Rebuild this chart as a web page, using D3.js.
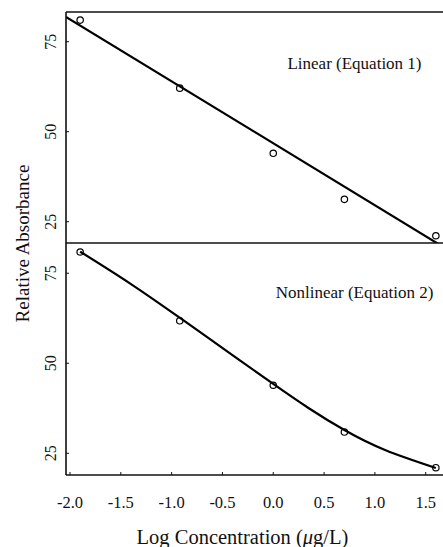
<!DOCTYPE html>
<html>
<head>
<meta charset="utf-8">
<script src="https://cdn.jsdelivr.net/npm/d3@7"></script>
<style>
  html, body { margin: 0; padding: 0; background: #fff; }
  svg { display: block; }
  text { font-family: "Liberation Serif", "DejaVu Serif", serif; fill: #111; }
</style>
</head>
<body>
<svg id="chart" width="443" height="547"></svg>
<script>
// ---- data ----
const logConc = [-1.9, -0.92, 0.0, 0.7, 1.6];
const absorbanceLinearPanel = [81.0, 62.1, 44.0, 31.2, 21.1];
const absorbanceNonlinearPanel = [80.9, 61.8, 43.9, 30.9, 21.0];

// fitted linear line (Equation 1), endpoints
const linearFitX = [-2.04, 1.66];
const linearFitY = [81.9, 18.2];

// fitted nonlinear curve (Equation 2)
const nonlinFitX = [-1.9, -1.4, -0.9, -0.45, 0.0, 0.35, 0.7, 1.1, 1.6];
const nonlinFitY = [81.0, 72.0, 62.25, 53.25, 44.25, 37.5, 31.45, 25.9, 20.9];

const xTicks = [-2.0, -1.5, -1.0, -0.5, 0.0, 0.5, 1.0, 1.5];
const xTickLabels = ["-2.0", "-1.5", "-1.0", "-0.5", "0.0", "0.5", "1.0", "1.5"];
const yTicks = [25, 50, 75];
const yTickLabels = ["25", "50", "75"];

const panelLabels = ["Linear (Equation 1)", "Nonlinear (Equation 2)"];
const xTitle = "Log Concentration (";
const yTitle = "Relative Absorbance";

// ---- layout ----
const svg = d3.select("#chart");
const left = 66, right = 443;
const x = d3.scaleLinear().domain([-2.0, 1.5]).range([70, 425.7]);

const panels = [
  { top: 12, bottom: 243, domain: [19.08, 83.25], ys: absorbanceLinearPanel, label: panelLabels[0], labelY: 63 },
  { top: 243, bottom: 475, domain: [18.97, 83.4], ys: absorbanceNonlinearPanel, label: panelLabels[1], labelY: 292 }
];
panels.forEach(p => { p.y = d3.scaleLinear().domain(p.domain).range([p.bottom, p.top]); });

const defs = svg.append("defs");
panels.forEach((p, i) => {
  defs.append("clipPath").attr("id", "clip" + i)
    .append("rect").attr("x", left).attr("y", p.top).attr("width", right - left).attr("height", p.bottom - p.top);
});

// fit lines
const lineGen = (ys) => d3.line().x(d => x(d[0])).y(d => ys(d[1]));
svg.append("path")
  .attr("clip-path", "url(#clip0)")
  .attr("d", lineGen(panels[0].y)(d3.zip(linearFitX, linearFitY)))
  .attr("fill", "none").attr("stroke", "#000").attr("stroke-width", 2.2);

svg.append("path")
  .attr("clip-path", "url(#clip1)")
  .attr("d", lineGen(panels[1].y).curve(d3.curveNatural)(d3.zip(nonlinFitX, nonlinFitY)))
  .attr("fill", "none").attr("stroke", "#000").attr("stroke-width", 2.2);

// points
panels.forEach(p => {
  svg.append("g").selectAll("circle")
    .data(d3.zip(logConc, p.ys))
    .join("circle")
    .attr("cx", d => x(d[0])).attr("cy", d => p.y(d[1])).attr("r", 3.2)
    .attr("fill", "none").attr("stroke", "#000").attr("stroke-width", 1.2);
});

// frame lines
const frame = svg.append("g").attr("stroke", "#111").attr("stroke-width", 1.6);
frame.append("line").attr("x1", left).attr("x2", right).attr("y1", 12).attr("y2", 12);
frame.append("line").attr("x1", left).attr("x2", right).attr("y1", 243).attr("y2", 243);
frame.append("line").attr("x1", left).attr("x2", right).attr("y1", 475).attr("y2", 475);
frame.append("line").attr("x1", left).attr("x2", left).attr("y1", 12).attr("y2", 475);

// y ticks + labels
panels.forEach(p => {
  const g = svg.append("g");
  yTicks.forEach((t, i) => {
    g.append("line").attr("x1", left).attr("x2", left + 3)
      .attr("y1", p.y(t)).attr("y2", p.y(t)).attr("stroke", "#111").attr("stroke-width", 1);
    g.append("text")
      .attr("transform", `translate(50,${p.y(t)}) rotate(-90)`)
      .attr("text-anchor", "middle").attr("dominant-baseline", "central")
      .style("font-size", "16px").text(yTickLabels[i]);
  });
  svg.append("text").attr("x", 354.5).attr("y", p.labelY)
    .attr("text-anchor", "middle").attr("dominant-baseline", "central")
    .style("font-size", "17px").text(p.label);
});

// x ticks + labels
const gx = svg.append("g");
xTicks.forEach((t, i) => {
  gx.append("line").attr("x1", x(t)).attr("x2", x(t)).attr("y1", 475).attr("y2", 472)
    .attr("stroke", "#111").attr("stroke-width", 1);
  gx.append("text").attr("x", x(t)).attr("y", 502)
    .attr("text-anchor", "middle").attr("dominant-baseline", "central")
    .style("font-size", "16.5px").text(xTickLabels[i]);
});

// axis titles
const xt = svg.append("text").attr("x", 242.5).attr("y", 537)
  .attr("text-anchor", "middle").attr("dominant-baseline", "central")
  .style("font-size", "20.5px");
xt.append("tspan").text(xTitle);
xt.append("tspan").style("font-style", "italic").text("μ");
xt.append("tspan").text("g/L)");

svg.append("text")
  .attr("transform", "translate(22,243.5) rotate(-90)")
  .attr("text-anchor", "middle").attr("dominant-baseline", "central")
  .style("font-size", "19px").text(yTitle);
</script>
</body>
</html>
